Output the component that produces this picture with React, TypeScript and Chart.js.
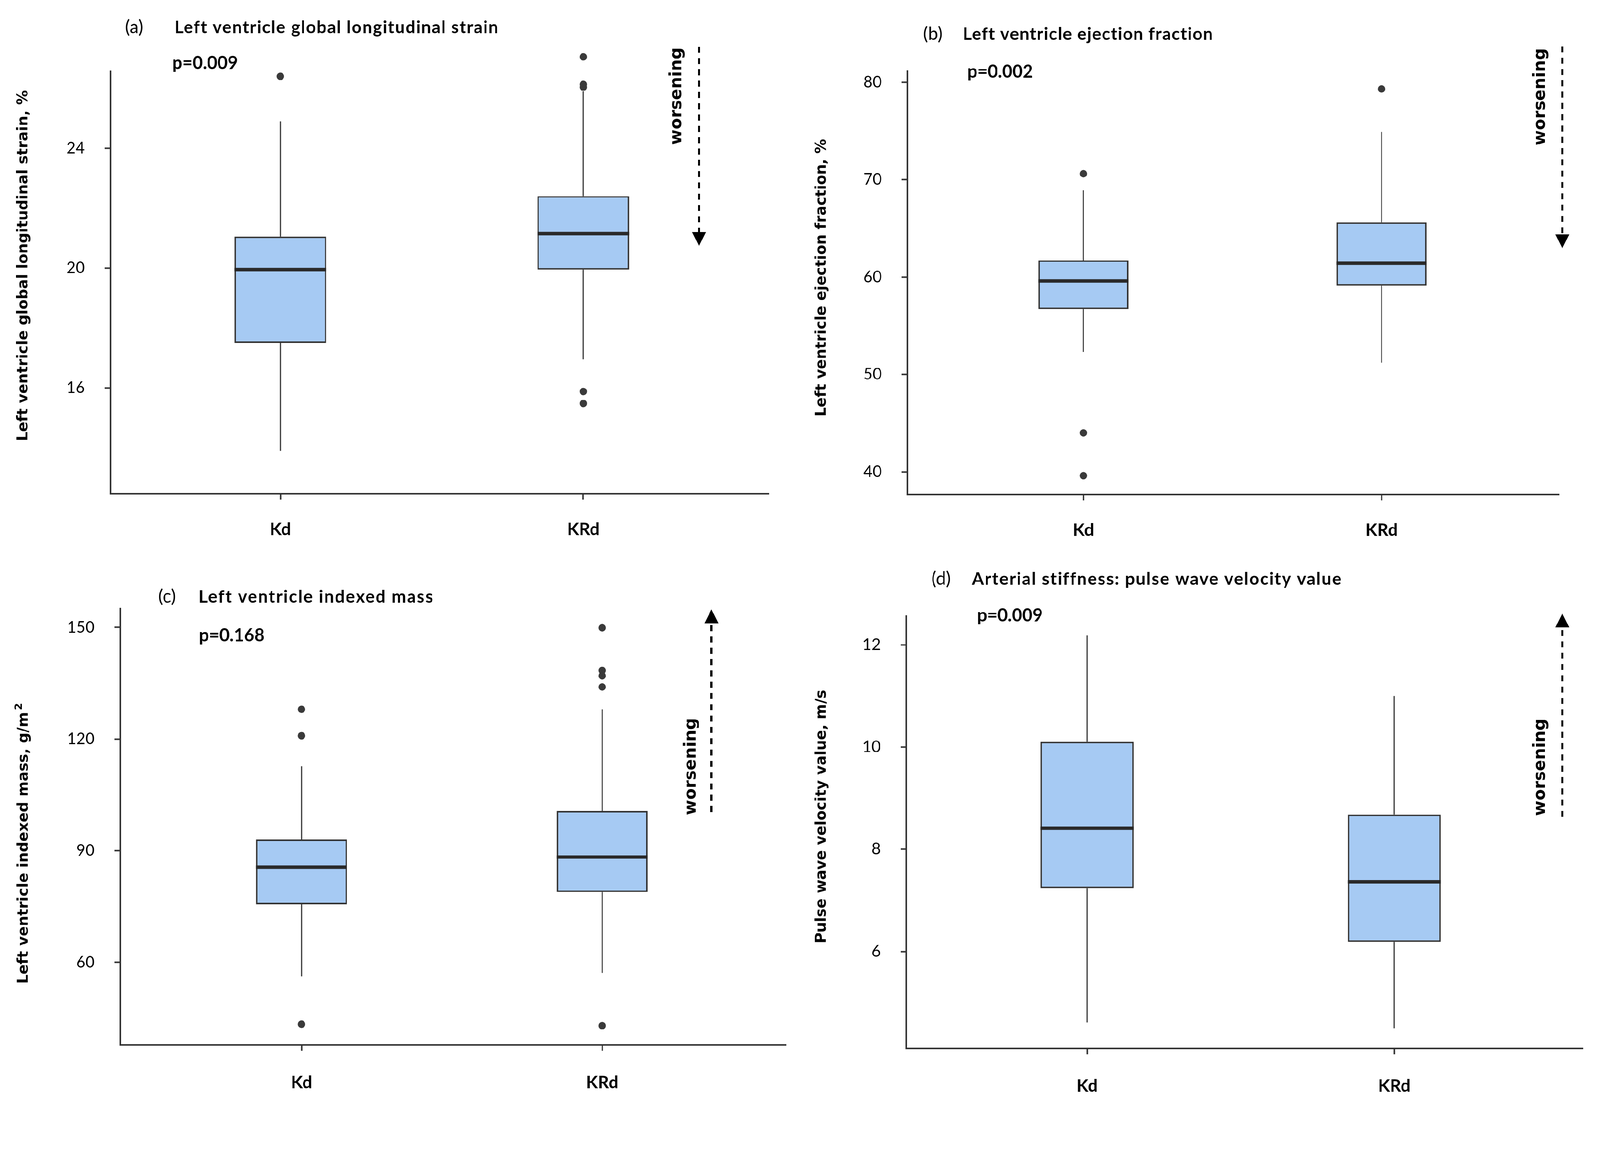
import React, { useEffect, useRef } from "react";
import { Chart, registerables } from "chart.js";

Chart.register(...registerables);

// ---------------- data ----------------
const GROUPS = ["Kd", "KRd"];

// (a) Left ventricle global longitudinal strain, %
const glsLow = [13.9, 16.95];
const glsQ1 = [17.5, 19.95];
const glsMedian = [19.95, 21.15];
const glsQ3 = [21.05, 22.4];
const glsHigh = [24.9, 25.9];
const glsOutKd = [26.4];
const glsOutKRd = [27.05, 26.13, 26.04, 15.88, 15.48];
const glsTicks = [16, 20, 24];

// (b) Left ventricle ejection fraction, %
const efLow = [52.3, 51.2];
const efQ1 = [56.7, 59.1];
const efMedian = [59.6, 61.4];
const efQ3 = [61.7, 65.6];
const efHigh = [68.9, 74.9];
const efOutKd = [70.6, 44.0, 39.6];
const efOutKRd = [79.3];
const efTicks = [40, 50, 60, 70, 80];

// (c) Left ventricle indexed mass, g/m2
const lvmLow = [56.2, 57.2];
const lvmQ1 = [75.6, 78.9];
const lvmMedian = [85.6, 88.3];
const lvmQ3 = [93.0, 100.7];
const lvmHigh = [112.7, 128.0];
const lvmOutKd = [128.0, 120.9, 43.4];
const lvmOutKRd = [149.9, 138.4, 137.0, 134.0, 43.0];
const lvmTicks = [60, 90, 120, 150];

// (d) Pulse wave velocity value, m/s
const pwvLow = [4.61, 4.5];
const pwvQ1 = [7.24, 6.19];
const pwvMedian = [8.41, 7.36];
const pwvQ3 = [10.1, 8.68];
const pwvHigh = [12.18, 11.0];
const pwvOutKd: number[] = [];
const pwvOutKRd: number[] = [];
const pwvTicks = [6, 8, 10, 12];

// ---------------- style ----------------
const PAGE_W = 4246;
const PAGE_H = 2944;
const QW = 2123;
const QH = 1472;
const BOX = 0.303; // box width as fraction of group spacing
const BOX_FILL = "#A6CAF3";
const EDGE = "#333333";
const DOT = "#3a3a3a";
const NARROW = "Lato, 'Liberation Sans', sans-serif";
const WIDE = "'DejaVu Sans', Verdana, sans-serif";

type Panel = {
  letter: string;
  title: string;
  titleW: number;
  pValue: string;
  yTitle: string;
  ySup?: string;
  low: number[];
  q1: number[];
  median: number[];
  q3: number[];
  high: number[];
  outliers: number[][];
  ticks: number[];
  yMin: number;
  yMax: number;
  yAxisTop: number;
  xMin: number;
  xMax: number;
  origin: [number, number];
  area: { l: number; t: number; r: number; b: number };
  xLabelPad: number;
  letterX: number;
  titleX: number;
  titleY: number;
  pX: number;
  pY: number;
  arrowX: number;
  arrowTop: number;
  arrowBottom: number;
  arrowUp: boolean;
  worseX: number;
  worseY: number;
  yTitleX: number;
  yTitleY: number;
};

const PANELS: Panel[] = [
  {
    letter: "(a)",
    title: "Left ventricle global longitudinal strain",
    titleW: 858,
    pValue: "p=0.009",
    yTitle: "Left ventricle global longitudinal strain, %",
    low: glsLow, q1: glsQ1, median: glsMedian, q3: glsQ3, high: glsHigh,
    outliers: [glsOutKd, glsOutKRd],
    ticks: glsTicks,
    yMin: 12.47, yMax: 27.4, yAxisTop: 26.59, xMin: 0.439, xMax: 2.612,
    origin: [0, 0],
    area: { l: 293, t: 123, r: 2040, b: 1310 },
    xLabelPad: 52,
    letterX: 332, titleX: 463, titleY: 73,
    pX: 457, pY: 168,
    arrowX: 1855, arrowTop: 124, arrowBottom: 653, arrowUp: false,
    worseX: 1797, worseY: 255,
    yTitleX: 63, yTitleY: 705,
  },
  {
    letter: "(b)",
    title: "Left ventricle ejection fraction",
    titleW: 664,
    pValue: "p=0.002",
    yTitle: "Left ventricle ejection fraction, %",
    low: efLow, q1: efQ1, median: efMedian, q3: efQ3, high: efHigh,
    outliers: [efOutKd, efOutKRd],
    ticks: efTicks,
    yMin: 37.68, yMax: 81.2, yAxisTop: 81.2, xMin: 0.4096, xMax: 2.595,
    origin: [2123, 0],
    area: { l: 285, t: 187, r: 2014, b: 1312 },
    xLabelPad: 52,
    letterX: 327, titleX: 432, titleY: 91,
    pX: 444, pY: 191,
    arrowX: 2023, arrowTop: 123, arrowBottom: 659, arrowUp: false,
    worseX: 1966, worseY: 257,
    yTitleX: 58, yTitleY: 737,
  },
  {
    letter: "(c)",
    title: "Left ventricle indexed mass",
    titleW: 621,
    pValue: "p=0.168",
    yTitle: "Left ventricle indexed mass, g/m",
    ySup: "2",
    low: lvmLow, q1: lvmQ1, median: lvmMedian, q3: lvmQ3, high: lvmHigh,
    outliers: [lvmOutKd, lvmOutKRd],
    ticks: lvmTicks,
    yMin: 37.83, yMax: 155.26, yAxisTop: 155.26, xMin: 0.397, xMax: 2.6115,
    origin: [0, 1472],
    area: { l: 319, t: 141, r: 2086, b: 1301 },
    xLabelPad: 57,
    letterX: 420, titleX: 527, titleY: 112,
    pX: 528, pY: 215,
    arrowX: 1888, arrowTop: 145, arrowBottom: 683, arrowUp: true,
    worseX: 1835, worseY: 562,
    yTitleX: 64, yTitleY: 766,
  },
  {
    letter: "(d)",
    title: "Arterial stiffness: pulse wave velocity value",
    titleW: 980,
    pValue: "p=0.009",
    yTitle: "Pulse wave velocity value, m/s",
    low: pwvLow, q1: pwvQ1, median: pwvMedian, q3: pwvQ3, high: pwvHigh,
    outliers: [pwvOutKd, pwvOutKRd],
    ticks: pwvTicks,
    yMin: 4.106, yMax: 12.575, yAxisTop: 12.575, xMin: 0.411, xMax: 2.6135,
    origin: [2123, 1472],
    area: { l: 282, t: 161, r: 2077, b: 1310 },
    xLabelPad: 57,
    letterX: 349, titleX: 456, titleY: 65,
    pX: 470, pY: 162,
    arrowX: 2023, arrowTop: 156, arrowBottom: 696, arrowUp: true,
    worseX: 1966, worseY: 564,
    yTitleX: 58, yTitleY: 695,
  },
];

function fillFitted(ctx: any, text: string, x: number, y: number, target: number) {
  ctx.letterSpacing = "0px";
  const w = ctx.measureText(text).width;
  const sp = (target - w) / Math.max(1, text.length - 1);
  ctx.letterSpacing = `${sp.toFixed(2)}px`;
  ctx.fillText(text, x, y);
  ctx.letterSpacing = "0px";
}

function decorPlugin(p: Panel) {
  return {
    id: "decor",
    beforeDatasetsDraw(chart: any) {
      // y axis line (ends where the original axis ends)
      const ctx: CanvasRenderingContext2D = chart.ctx;
      const ys = chart.scales.y;
      const ca = chart.chartArea;
      ctx.save();
      ctx.strokeStyle = EDGE;
      ctx.lineWidth = 4;
      ctx.beginPath();
      ctx.moveTo(ca.left, ys.getPixelForValue(p.yAxisTop));
      ctx.lineTo(ca.left, ca.bottom + 2);
      ctx.stroke();
      ctx.restore();
    },
    afterDraw(chart: any) {
      const ctx: any = chart.ctx;
      ctx.save();
      ctx.fillStyle = "#000";
      ctx.textBaseline = "middle";
      ctx.textAlign = "left";
      // panel title
      ctx.font = `400 48px ${NARROW}`;
      ctx.fillText(p.letter, p.letterX, p.titleY);
      ctx.font = `700 46px ${NARROW}`;
      fillFitted(ctx, p.title, p.titleX, p.titleY, p.titleW);
      // p value
      ctx.font = `700 47px ${NARROW}`;
      ctx.fillText(p.pValue, p.pX, p.pY);

      // y axis title (rotated)
      ctx.save();
      ctx.translate(p.yTitleX, p.yTitleY);
      ctx.rotate(-Math.PI / 2);
      ctx.font = `700 39px ${WIDE}`;
      const mainW = ctx.measureText(p.yTitle).width;
      let supW = 0;
      if (p.ySup) {
        ctx.font = `700 27px ${WIDE}`;
        supW = ctx.measureText(p.ySup).width + 5;
      }
      const startX = -(mainW + supW) / 2;
      ctx.font = `700 39px ${WIDE}`;
      ctx.textAlign = "left";
      ctx.fillText(p.yTitle, startX, 0);
      if (p.ySup) {
        ctx.font = `700 27px ${WIDE}`;
        ctx.fillText(p.ySup, startX + mainW + 5, -13);
      }
      ctx.restore();

      // "worsening"
      ctx.save();
      ctx.translate(p.worseX, p.worseY);
      ctx.rotate(-Math.PI / 2);
      ctx.font = `700 44px ${WIDE}`;
      ctx.textAlign = "center";
      ctx.fillText("worsening", 0, 0);
      ctx.restore();

      // dashed arrow
      const head = 37;
      ctx.strokeStyle = "#000";
      ctx.lineWidth = 6;
      ctx.setLineDash([16, 14]);
      ctx.beginPath();
      if (p.arrowUp) {
        ctx.moveTo(p.arrowX, p.arrowBottom);
        ctx.lineTo(p.arrowX, p.arrowTop + head);
      } else {
        ctx.moveTo(p.arrowX, p.arrowTop);
        ctx.lineTo(p.arrowX, p.arrowBottom - head);
      }
      ctx.stroke();
      ctx.setLineDash([]);
      ctx.beginPath();
      if (p.arrowUp) {
        ctx.moveTo(p.arrowX, p.arrowTop);
        ctx.lineTo(p.arrowX - head / 2, p.arrowTop + head);
        ctx.lineTo(p.arrowX + head / 2, p.arrowTop + head);
      } else {
        ctx.moveTo(p.arrowX, p.arrowBottom);
        ctx.lineTo(p.arrowX - head / 2, p.arrowBottom - head);
        ctx.lineTo(p.arrowX + head / 2, p.arrowBottom - head);
      }
      ctx.closePath();
      ctx.fillStyle = "#000";
      ctx.fill();
      ctx.restore();
    },
  };
}

function buildConfig(p: Panel): any {
  const boxes = GROUPS.map((_, i) => ({ x: i + 1, y: [p.q1[i], p.q3[i]] }));
  const whiskers: any[] = [];
  const medians: any[] = [];
  const dots: any[] = [];
  GROUPS.forEach((_, i) => {
    const x = i + 1;
    whiskers.push({ x, y: p.high[i] }, { x, y: p.q3[i] }, { x, y: null });
    whiskers.push({ x, y: p.q1[i] }, { x, y: p.low[i] }, { x, y: null });
    medians.push({ x: x - BOX / 2, y: p.median[i] }, { x: x + BOX / 2, y: p.median[i] }, { x, y: null });
    p.outliers[i].forEach((v) => dots.push({ x, y: v }));
  });

  const { l, t, r, b } = p.area;
  return {
    type: "bar",
    data: {
      datasets: [
        {
          type: "scatter",
          data: dots,
          pointRadius: 10,
          pointBackgroundColor: DOT,
          pointBorderWidth: 0,
          clip: false,
          order: 0,
        },
        {
          type: "line",
          data: medians,
          borderColor: "#2a2a2a",
          borderWidth: 9,
          borderCapStyle: "butt",
          pointRadius: 0,
          spanGaps: false,
          clip: false,
          order: 1,
        },
        {
          type: "bar",
          data: boxes,
          backgroundColor: BOX_FILL,
          borderColor: EDGE,
          borderWidth: 4,
          borderSkipped: false,
          barPercentage: 1,
          categoryPercentage: BOX,
          clip: false,
          order: 2,
        },
        {
          type: "line",
          data: whiskers,
          borderColor: EDGE,
          borderWidth: 3,
          pointRadius: 0,
          spanGaps: false,
          clip: false,
          order: 3,
        },
      ],
    },
    options: {
      responsive: false,
      maintainAspectRatio: false,
      animation: false,
      devicePixelRatio: 1,
      events: [],
      layout: { padding: { left: 0, top: t, right: QW - r, bottom: 0 } },
      plugins: {
        legend: { display: false },
        tooltip: { enabled: false },
        title: { display: false },
      },
      scales: {
        x: {
          type: "linear",
          min: p.xMin,
          max: p.xMax,
          offset: false,
          bounds: "data",
          afterBuildTicks: (s: any) => {
            s.ticks = GROUPS.map((_, i) => ({ value: i + 1 }));
          },
          afterFit: (s: any) => {
            s.height = QH - b;
          },
          grid: {
            display: true,
            offset: false,
            drawOnChartArea: false,
            drawTicks: true,
            tickLength: 16,
            tickWidth: 4,
            tickColor: EDGE,
          },
          border: { display: true, color: EDGE, width: 4 },
          ticks: {
            autoSkip: false,
            maxRotation: 0,
            padding: p.xLabelPad,
            color: "#000",
            font: { family: NARROW, size: 46, weight: "bold" },
            callback: (v: any) => GROUPS[Math.round(v) - 1] ?? "",
          },
        },
        y: {
          type: "linear",
          min: p.yMin,
          max: p.yMax,
          offset: false,
          beginAtZero: false,
          afterBuildTicks: (s: any) => {
            s.ticks = p.ticks.map((v) => ({ value: v }));
          },
          afterFit: (s: any) => {
            s.width = l;
          },
          grid: {
            display: true,
            offset: false,
            drawOnChartArea: false,
            drawTicks: true,
            tickLength: 15,
            tickWidth: 4,
            tickColor: EDGE,
          },
          border: { display: false },
          ticks: {
            autoSkip: false,
            padding: 53,
            color: "#000",
            font: { family: NARROW, size: 42, weight: "normal" },
            callback: (v: any) => String(v),
          },
        },
      },
    },
    plugins: [decorPlugin(p)],
  };
}

function PanelChart({ panel }: { panel: Panel }) {
  const ref = useRef<HTMLCanvasElement | null>(null);
  useEffect(() => {
    if (!ref.current) return;
    const chart = new Chart(ref.current, buildConfig(panel));
    return () => chart.destroy();
  }, [panel]);
  return (
    <canvas
      ref={ref}
      width={QW}
      height={QH}
      style={{
        position: "absolute",
        left: panel.origin[0],
        top: panel.origin[1],
        width: QW,
        height: QH,
      }}
    />
  );
}

export default function App() {
  const vw = typeof window !== "undefined" && window.innerWidth ? window.innerWidth : PAGE_W;
  const vh = typeof window !== "undefined" && window.innerHeight ? window.innerHeight : PAGE_H;
  const s = Math.min(vw / PAGE_W, vh / PAGE_H);
  return (
    <div
      style={{
        position: "absolute",
        left: 0,
        top: 0,
        width: PAGE_W,
        height: PAGE_H,
        background: "#ffffff",
        overflow: "hidden",
        transform: `scale(${s})`,
        transformOrigin: "0 0",
      }}
    >
      {PANELS.map((p) => (
        <PanelChart key={p.letter} panel={p} />
      ))}
    </div>
  );
}
